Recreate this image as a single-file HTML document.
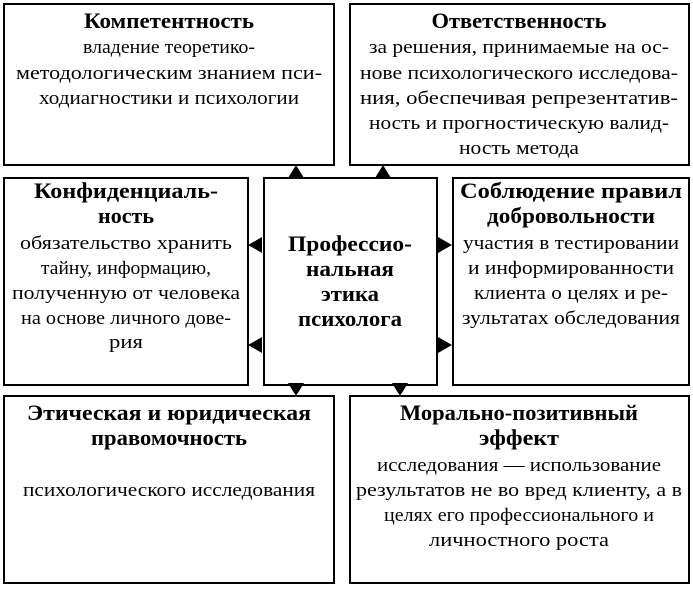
<!DOCTYPE html>
<html><head><meta charset="utf-8"><style>
html,body{margin:0;padding:0;background:#fff;}
svg{display:block;}
text{font-family:"Liberation Serif","Times New Roman",Times,serif;fill:#000;}
.t{font-weight:bold;font-size:22px;}
.b{font-size:19px;}
</style></head><body>
<svg width="693" height="589" viewBox="0 0 693 589" xmlns="http://www.w3.org/2000/svg">
<g fill="none" stroke="#000" stroke-width="2">
<rect x="4" y="4" width="330" height="161"/>
<rect x="350" y="4" width="339" height="161"/>
<rect x="4" y="178" width="244" height="207"/>
<rect x="264" y="178" width="173" height="207"/>
<rect x="453" y="178" width="236" height="207"/>
<rect x="4" y="396" width="330" height="187"/>
<rect x="350" y="396" width="339" height="187"/>
</g>
<g fill="#000">
<polygon points="296,165 288,178 304,178"/>
<polygon points="383,165 375,178 391,178"/>
<polygon points="248,245 262,237 262,253"/>
<polygon points="248,345 262,337 262,353"/>
<polygon points="452,245 438,237 438,253"/>
<polygon points="452,345 438,337 438,353"/>
<polygon points="296,396 288,383 304,383"/>
<polygon points="400,396 392,383 408,383"/>
</g>
<g text-anchor="middle">
<text class="t" x="169" y="28" textLength="170" lengthAdjust="spacingAndGlyphs">Компетентность</text>
<text class="b" x="169" y="53" textLength="172" lengthAdjust="spacingAndGlyphs">владение теоретико-</text>
<text class="b" x="169" y="79" textLength="306" lengthAdjust="spacingAndGlyphs">методологическим знанием пси-</text>
<text class="b" x="169" y="104" textLength="260" lengthAdjust="spacingAndGlyphs">ходиагностики и психологии</text>

<text class="t" x="519" y="28" textLength="175" lengthAdjust="spacingAndGlyphs">Ответственность</text>
<text class="b" x="519" y="53" textLength="300" lengthAdjust="spacingAndGlyphs">за решения, принимаемые на ос-</text>
<text class="b" x="519" y="79" textLength="318" lengthAdjust="spacingAndGlyphs">нове психологического исследова-</text>
<text class="b" x="519" y="104" textLength="318" lengthAdjust="spacingAndGlyphs">ния, обеспечивая репрезентатив-</text>
<text class="b" x="519" y="129" textLength="300" lengthAdjust="spacingAndGlyphs">ность и прогностическую валид-</text>
<text class="b" x="519" y="154" textLength="120" lengthAdjust="spacingAndGlyphs">ность метода</text>

<text class="t" x="126" y="198" textLength="184" lengthAdjust="spacingAndGlyphs">Конфиденциаль-</text>
<text class="t" x="126" y="223" textLength="56" lengthAdjust="spacingAndGlyphs">ность</text>
<text class="b" x="126" y="249" textLength="212" lengthAdjust="spacingAndGlyphs">обязательство хранить</text>
<text class="b" x="126" y="274" textLength="170" lengthAdjust="spacingAndGlyphs">тайну, информацию,</text>
<text class="b" x="126" y="299" textLength="228" lengthAdjust="spacingAndGlyphs">полученную от человека</text>
<text class="b" x="126" y="324" textLength="210" lengthAdjust="spacingAndGlyphs">на основе личного дове-</text>
<text class="b" x="126" y="348" textLength="34" lengthAdjust="spacingAndGlyphs">рия</text>

<text class="t" x="350" y="251" textLength="124" lengthAdjust="spacingAndGlyphs">Профессио-</text>
<text class="t" x="350" y="276" textLength="88" lengthAdjust="spacingAndGlyphs">нальная</text>
<text class="t" x="350" y="301" textLength="58" lengthAdjust="spacingAndGlyphs">этика</text>
<text class="t" x="350" y="326" textLength="104" lengthAdjust="spacingAndGlyphs">психолога</text>

<text class="t" x="571" y="198" textLength="222" lengthAdjust="spacingAndGlyphs">Соблюдение правил</text>
<text class="t" x="571" y="223" textLength="168" lengthAdjust="spacingAndGlyphs">добровольности</text>
<text class="b" x="571" y="249" textLength="216" lengthAdjust="spacingAndGlyphs">участия в тестировании</text>
<text class="b" x="571" y="274" textLength="206" lengthAdjust="spacingAndGlyphs">и информированности</text>
<text class="b" x="571" y="299" textLength="194" lengthAdjust="spacingAndGlyphs">клиента о целях и ре-</text>
<text class="b" x="571" y="324" textLength="218" lengthAdjust="spacingAndGlyphs">зультатах обследования</text>

<text class="t" x="169" y="420" textLength="284" lengthAdjust="spacingAndGlyphs">Этическая и юридическая</text>
<text class="t" x="169" y="445" textLength="156" lengthAdjust="spacingAndGlyphs">правомочность</text>
<text class="b" x="169" y="496" textLength="292" lengthAdjust="spacingAndGlyphs">психологического исследования</text>

<text class="t" x="519" y="420" textLength="238" lengthAdjust="spacingAndGlyphs">Морально-позитивный</text>
<text class="t" x="519" y="445" textLength="80" lengthAdjust="spacingAndGlyphs">эффект</text>
<text class="b" x="519" y="471" textLength="284" lengthAdjust="spacingAndGlyphs">исследования — использование</text>
<text class="b" x="519" y="496" textLength="326" lengthAdjust="spacingAndGlyphs">результатов не во вред клиенту, а в</text>
<text class="b" x="519" y="521" textLength="270" lengthAdjust="spacingAndGlyphs">целях его профессионального и</text>
<text class="b" x="519" y="546" textLength="180" lengthAdjust="spacingAndGlyphs">личностного роста</text>
</g>
</svg>
</body></html>
